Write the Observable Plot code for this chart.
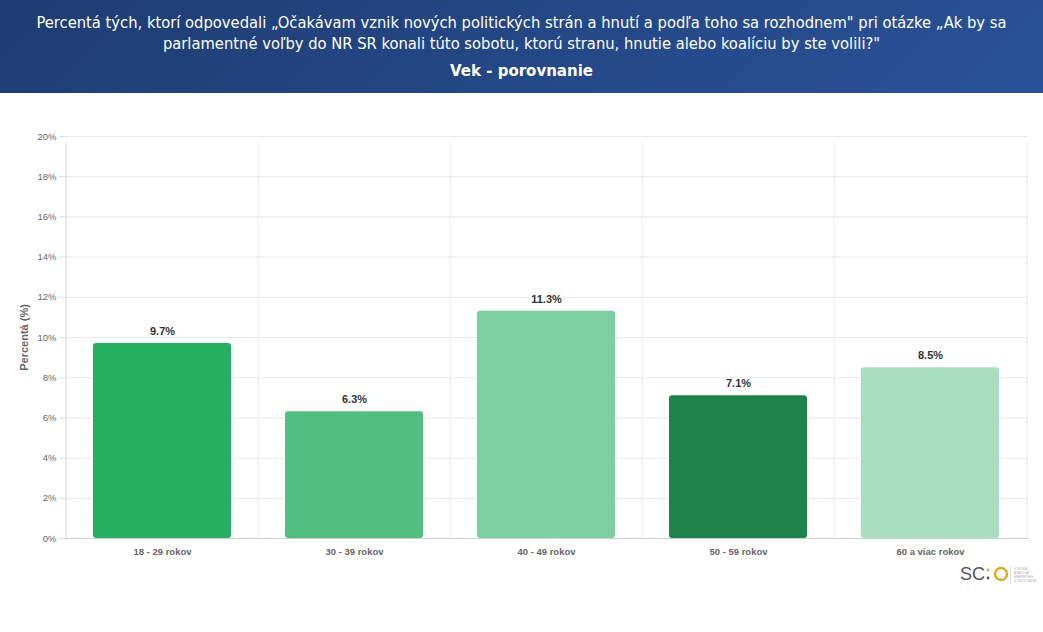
<!DOCTYPE html>
<html lang="sk">
<head>
<meta charset="utf-8">
<script src="https://cdn.jsdelivr.net/npm/d3@7"></script>
<script src="https://cdn.jsdelivr.net/npm/@observablehq/plot@0.6"></script>
<style>
  html, body { margin: 0; padding: 0; background: #fff; }
  body { width: 1043px; height: 632px; overflow: hidden; position: relative; }
  #head {
    height: 93px; box-sizing: border-box; padding-top: 13px;
    background: linear-gradient(135deg, #1e3c72, #2a5298);
    color: #fff; text-align: center; font-family: "DejaVu Sans", sans-serif;
  }
  #head .t { font-size: 16.4px; line-height: 20.5px; font-stretch: condensed; }
  #head .s { font-size: 15px; font-weight: bold; margin-top: 7px; line-height: 20px; }
  #chart svg { display: block; background: #fff; }
  g[aria-label="y-axis label"] text { font-weight: bold; font-size: 11px; }
  #logo { position: absolute; left: 958px; top: 562px; }
</style>
</head>
<body>
<div id="head">
  <div class="t">Percentá tých, ktorí odpovedali „Očakávam vznik nových politických strán a hnutí a podľa toho sa rozhodnem" pri otázke „Ak by sa<br>parlamentné voľby do NR SR konali túto sobotu, ktorú stranu, hnutie alebo koalíciu by ste volili?"</div>
  <div class="s">Vek - porovnanie</div>
</div>
<div id="chart"></div>
<svg id="logo" width="80" height="24" viewBox="0 0 80 24">
  <text x="2" y="18" font-family="Liberation Sans" font-size="18" fill="#555">SC</text>
  <circle cx="30" cy="8" r="1.4" fill="#e0a820"/>
  <circle cx="30" cy="16" r="1.4" fill="#555"/>
  <circle cx="43" cy="12" r="6" fill="none" stroke="#e0a820" stroke-width="2.4"/>
  <line x1="52.5" y1="4" x2="52.5" y2="21" stroke="#ddd"/>
  <text font-family="Liberation Sans" font-size="3.2" fill="#aaa"><tspan x="56" y="8">VYSOKÁ</tspan><tspan x="56" y="12">ANALÝZA</tspan><tspan x="56" y="16">MARKETING</tspan><tspan x="56" y="20">KONZULTÁCIE</tspan></text>
</svg>
<script>
const categories = ["18 - 29 rokov", "30 - 39 rokov", "40 - 49 rokov", "50 - 59 rokov", "60 a viac rokov"];
const values = [9.7, 6.3, 11.3, 7.1, 8.5];
const colors = ["#27ae60", "#52be80", "#7dcea0", "#1e8449", "#a9dfbf"];
const yTicks = [0, 2, 4, 6, 8, 10, 12, 14, 16, 18, 20];

const rows = categories.map((c, i) => ({category: c, value: values[i]}));
const halfStep = 96.4; // half of a category band, for the separators between bands

const plot = Plot.plot({
  width: 1043,
  height: 490,
  marginTop: 43,
  marginBottom: 45,
  marginLeft: 64,
  marginRight: 15,
  style: {fontFamily: "'Liberation Sans', Arial, sans-serif", fontSize: "9.5px", color: "#666", background: "#fff"},
  x: {type: "band", domain: categories, paddingInner: 0.28, paddingOuter: 0.14, label: null},
  y: {domain: [0, 20], ticks: yTicks, label: null},
  color: {type: "ordinal", domain: categories, range: colors},
  marks: [
    Plot.ruleY(yTicks, {stroke: "#e9e9e9", strokeWidth: 1}),
    Plot.ruleX(categories, {x: d => d, dx: -halfStep, y1: 0, y2: 20, insetBottom: -6, stroke: d => d === categories[0] ? "#d4d4d4" : "#e9e9e9"}),
    Plot.ruleX(categories.slice(-1), {x: d => d, dx: halfStep, y1: 0, y2: 20, insetBottom: -6, stroke: "#e9e9e9"}),
    Plot.barY(rows, {x: "category", y: "value", fill: "category", r: 3}),
    Plot.ruleY([0], {stroke: "#cfcfcf", strokeWidth: 1.2}),
    Plot.text(rows, {x: "category", y: "value", text: d => d.value.toFixed(1) + "%", dy: -12, fontWeight: "bold", fontSize: 11, fill: "#333"}),
    Plot.axisY({ticks: yTicks, tickFormat: d => d + "%", tickSize: 5, tickPadding: 3, stroke: "#ddd", fill: "#666", label: "Percentá (%)", labelAnchor: "center", labelArrow: "none", labelOffset: 44}),
    Plot.axisX({tickSize: 0, tickPadding: 10, fontWeight: "bold", fill: "#666", label: null})
  ]
});
document.getElementById("chart").append(plot);
</script>
</body>
</html>
